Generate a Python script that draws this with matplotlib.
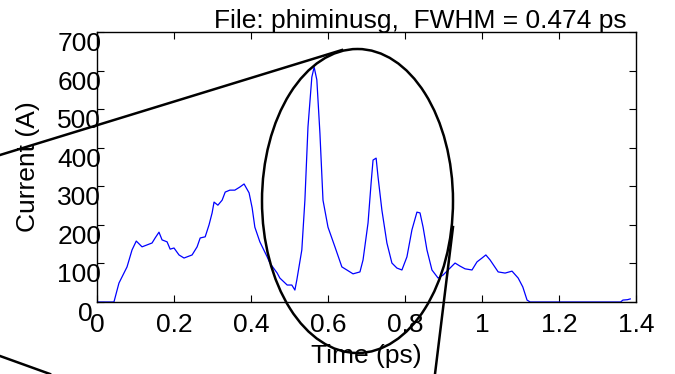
import numpy as np
import matplotlib
matplotlib.use("Agg")
import matplotlib.pyplot as plt
from matplotlib.lines import Line2D
from matplotlib.patches import Ellipse
from matplotlib.transforms import ScaledTranslation

plt.rcParams['font.family'] = ['Liberation Sans', 'DejaVu Sans']

# current profile
t = [0.0, 0.044, 0.057, 0.078, 0.091, 0.102, 0.117, 0.130, 0.143, 0.151, 0.161,
     0.169, 0.182, 0.190, 0.200, 0.213, 0.226, 0.247, 0.260, 0.268, 0.281, 0.291,
     0.299, 0.304, 0.314, 0.325, 0.333, 0.345, 0.358, 0.371, 0.382, 0.395, 0.403,
     0.410, 0.423, 0.442, 0.449, 0.468, 0.475, 0.494, 0.506, 0.514, 0.519, 0.532,
     0.540, 0.548, 0.558, 0.564, 0.571, 0.579, 0.587, 0.600, 0.618, 0.636, 0.649,
     0.665, 0.683, 0.691, 0.704, 0.712, 0.717, 0.725, 0.730, 0.740, 0.753, 0.766,
     0.779, 0.792, 0.805, 0.818, 0.831, 0.839, 0.847, 0.857, 0.870, 0.886, 0.899,
     0.917, 0.930, 0.943, 0.956, 0.974, 0.987, 1.000, 1.010, 1.021, 1.042, 1.060,
     1.078, 1.094, 1.106, 1.117, 1.125, 1.360, 1.366, 1.378, 1.385]
current = [0, 0, 49, 91, 135, 158, 143, 148, 153, 166, 181,
           161, 156, 137, 140, 122, 114, 122, 143, 166, 169, 200,
           231, 259, 251, 264, 285, 290, 290, 298, 306, 283, 244,
           194, 156, 117, 101, 75, 62, 44, 44, 31, 57, 135,
           264, 454, 583, 609, 576, 438, 264, 194, 143, 91, 83,
           73, 78, 109, 205, 309, 368, 373, 324, 238, 153, 101,
           88, 83, 117, 187, 233, 231, 194, 135, 83, 62, 70,
           88, 101, 93, 86, 83, 104, 114, 122, 109, 78, 75,
           80, 62, 39, 5, 0, 0, 5, 6, 8]

xticks = [0, 0.2, 0.4, 0.6, 0.8, 1, 1.2, 1.4]
xticklabels = ['0', '0.2', '0.4', '0.6', '0.8', '1', '1.2', '1.4']
yticks = [0, 100, 200, 300, 400, 500, 600, 700]

W, H = 675, 374
fig = plt.figure(figsize=(W / 100, H / 100), dpi=100)
ax = fig.add_axes([97 / W, 1 - 302 / H, 539 / W, 270 / H])

ax.plot(t, current, color='blue', lw=0.9)
ax.set_xlim(0, 1.4)
ax.set_ylim(0, 700)
ax.set_xticks(xticks)
ax.set_xticklabels(xticklabels)
ax.set_yticks(yticks)
ax.set_yticklabels([str(v) for v in yticks], va='top')

ax.tick_params(direction='in', length=5, width=0.8, top=True, right=True,
               labelsize=19)
ax.tick_params(axis='y', pad=-3)
ax.tick_params(axis='x', pad=8)
for s in ax.spines.values():
    s.set_linewidth(1.0)

ax.set_xlabel('Time (ps)', fontsize=19, labelpad=5)
ax.set_ylabel('Current (A)', fontsize=19, labelpad=12)

# the y "0" sits a bit left of the others
lab0 = ax.get_yticklabels()[0]
lab0.set_transform(lab0.get_transform() + ScaledTranslation(-0.09, 0, fig.dpi_scale_trans))

fig.text(627 / W, 1 - 28 / H, 'File: phiminusg,  FWHM = 0.474 ps',
         ha='right', va='baseline', fontsize=19)

# annotation ellipse and lines in figure pixel fractions
ell = Ellipse((357.5 / W, 1 - 201 / H), 191 / W, 304 / H, fill=False,
              edgecolor='black', lw=1.8, transform=fig.transFigure)
fig.add_artist(ell)
for (x0, y0), (x1, y1) in [((0, 155), (342, 50)),
                           ((0, 356), (50, 374)),
                           ((453, 227), (435, 374))]:
    fig.add_artist(Line2D([x0 / W, x1 / W], [1 - y0 / H, 1 - y1 / H],
                          color='black', lw=1.8, transform=fig.transFigure))

fig.savefig('out.png', dpi=100)
